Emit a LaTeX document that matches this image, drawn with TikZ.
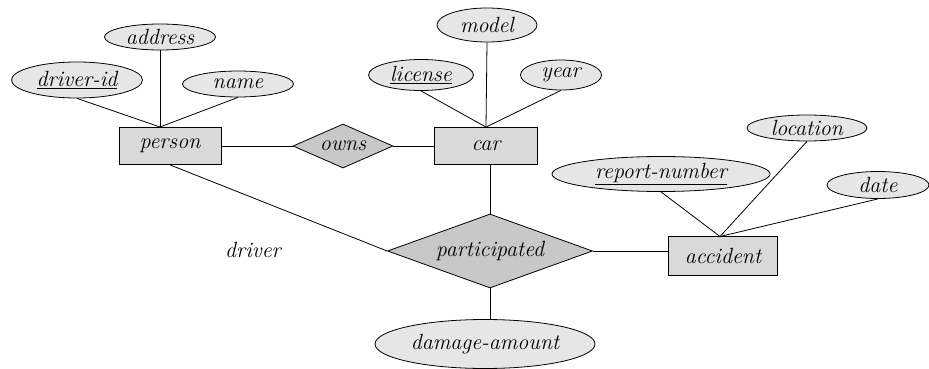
\documentclass[tikz,border=0pt]{standalone}
\usetikzlibrary{shapes.geometric}
\definecolor{attrfill}{HTML}{E6E6E6}
\definecolor{entfill}{HTML}{D9D9D9}
\definecolor{relfill}{HTML}{C8C8C8}
\tikzset{
  every node/.style={font=\fontsize{22}{26}\selectfont\itshape, inner sep=0pt},
  attr/.style={ellipse, draw, fill=attrfill, line width=0.8pt},
  ent/.style={rectangle, draw, fill=entfill, line width=0.8pt},
  rel/.style={diamond, draw, fill=relfill, line width=0.8pt},
  conn/.style={line width=0.8pt}
}
\begin{document}
\begin{tikzpicture}[x=1pt,y=-1pt]
\useasboundingbox (0,0) rectangle (929,369);
% entities
\node[ent, minimum width=102pt, minimum height=37pt] (person) at (170,146) {person};
\node[ent, minimum width=103pt, minimum height=37pt] (car) at (486,146) {car};
\node[ent, minimum width=109pt, minimum height=39pt] (accident) at (723,256) {accident};
% relationships
\node[rel, aspect=2.27, minimum width=100pt, minimum height=44pt] (owns) at (343,146) {owns};
\node[rel, aspect=2.77, minimum width=205pt, minimum height=74pt] (part) at (490,251) {participated};
% attributes
\node[attr, minimum width=111pt, minimum height=26pt] (address) at (160,37) {address};
\node[attr, minimum width=131pt, minimum height=36pt] (did) at (77,80) {\underline{driver-id}};
\node[attr, minimum width=111pt, minimum height=26pt] (name) at (238,84) {name};
\node[attr, minimum width=100pt, minimum height=34pt] (model) at (487,25) {model};
\node[attr, minimum width=105pt, minimum height=31pt] (license) at (421,75) {\underline{license}};
\node[attr, minimum width=81pt, minimum height=30pt] (year) at (561,75) {year};
\node[attr, minimum width=120pt, minimum height=26pt] (location) at (807,128) {location};
\node[attr, minimum width=218pt, minimum height=35pt] (rnum) at (661,174) {\underline{report-number}};
\node[attr, minimum width=102pt, minimum height=27pt] (date) at (878,185) {date};
\node[attr, minimum width=220pt, minimum height=49pt] (damage) at (485,344) {damage-amount};
% role label
\node (driver) at (253,250) {driver};
% junctions
\coordinate (ptop) at (160,127);
\coordinate (atop) at (720,236.5);
% connectors
\draw[conn] (did.south) -- (ptop);
\draw[conn] (address.south) -- (ptop);
\draw[conn] (name.south) -- (ptop);
\draw[conn] (license.south) -- (car.north);
\draw[conn] (model.south) -- (car.north);
\draw[conn] (year.south) -- (car.north);
\draw[conn] (rnum.south) -- (atop);
\draw[conn] (location.south) -- (atop);
\draw[conn] (date.south) -- (atop);
\draw[conn] (person.east) -- (owns.west);
\draw[conn] (owns.east) -- (car.west);
\draw[conn] (person.south) -- (part.west);
\draw[conn] (part.north |- car.south) -- (part.north);
\draw[conn] (part.east) -- (part.east -| accident.west);
\draw[conn] (part.south) -- (part.south |- damage.north);
\end{tikzpicture}
\end{document}
